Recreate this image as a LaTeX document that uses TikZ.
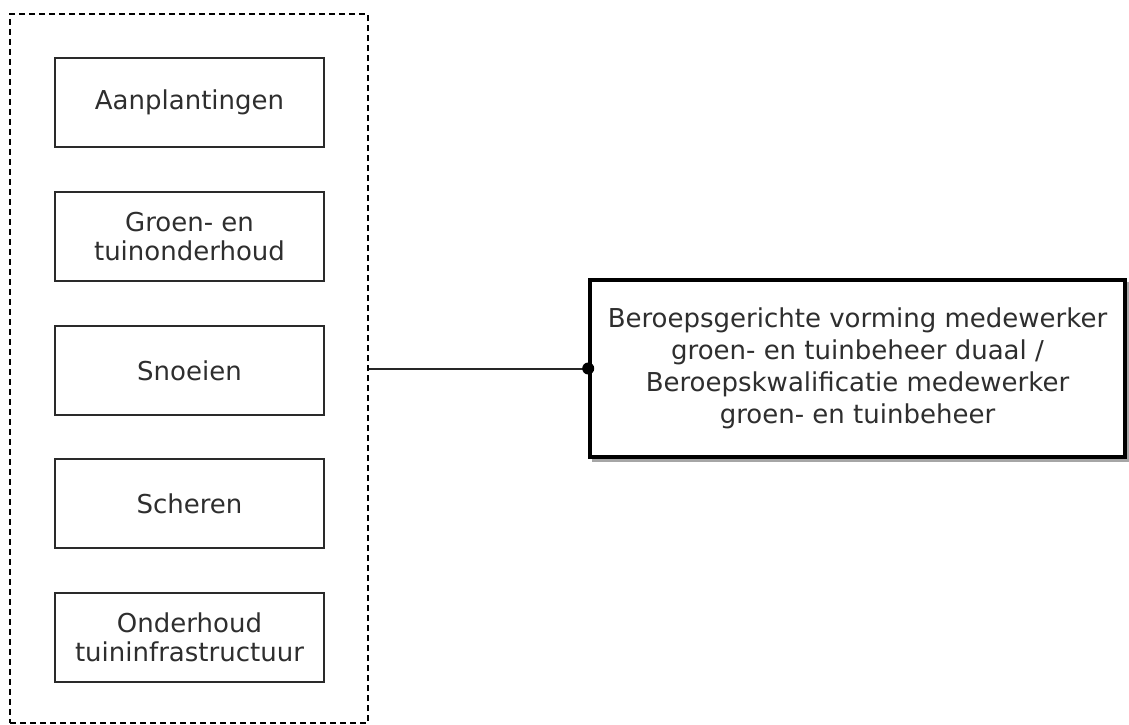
\documentclass[tikz,border=0pt]{standalone}
\usepackage{fontspec}
\setmainfont{DejaVu Sans}
\definecolor{txt}{HTML}{2E2E2E}
\definecolor{edge}{HTML}{2A2A2A}
\begin{document}
\begin{tikzpicture}[x=1pt,y=-1pt,
  item/.style={draw=edge,line width=2.2pt,rectangle,minimum width=269pt,minimum height=89pt,
    inner sep=0pt,align=center,text=txt,font=\fontsize{26}{29}\selectfont},
  target/.style={draw=black,line width=3.6pt,rectangle,fill=white,minimum width=535pt,minimum height=177pt,
    inner sep=0pt,align=center,text=txt,font=\fontsize{26}{32}\selectfont},
  shadowbox/.style={rectangle,fill=gray!70,draw=gray!70,line width=3.6pt,minimum width=535pt,minimum height=177pt,inner sep=0pt},
  group/.style={draw=black,line width=1.7pt,dash pattern=on 6pt off 4pt,rectangle,inner sep=0pt},
  link/.style={draw=black!85,line width=2pt},
  dot/.style={circle,fill=black,inner sep=0pt,minimum size=12pt}]
\useasboundingbox (0,0) rectangle (1129,725);
\node[group,minimum width=358pt,minimum height=709pt] (grp) at (189,368.5) {};
\node[item] (a) at (189.5,102.5) {Aanplantingen};
\node[item] (b) at (189.5,236.5) {Groen- en\\tuinonderhoud};
\node[item] (c) at (189.5,370.5) {Snoeien};
\node[item] (d) at (189.5,503.5) {Scheren};
\node[item] (e) at (189.5,637.5) {Onderhoud\\tuininfrastructuur};
\node[shadowbox] (sh) at (861,372) {};
\node[target] (rb) at (857.5,368.5) {Beroepsgerichte vorming medewerker\\groen- en tuinbeheer duaal /\\Beroepskwalificatie medewerker\\groen- en tuinbeheer};
\coordinate (s) at (rb.west -| grp.east);
\draw[link] (s) -- (rb.west);
\node[dot] (p) at (rb.west) {};
\end{tikzpicture}
\end{document}
